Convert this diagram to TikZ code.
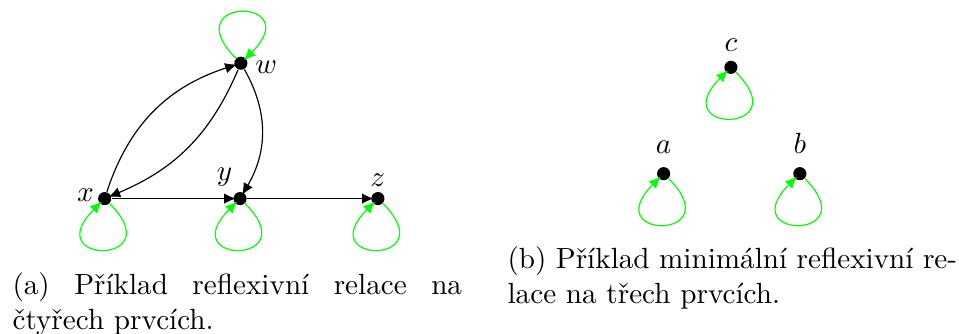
\documentclass[tikz,border=0pt]{standalone}
\usetikzlibrary{arrows.meta}

\begin{document}
\begin{tikzpicture}[
  vertex/.style={circle, fill=black, inner sep=0pt, minimum size=4.5pt},
  edge/.style={-{Latex[length=4pt,width=3.6pt]}, shorten >=-1pt},
  refl/.style={green, -{Latex[length=4pt,width=3.6pt]}, shorten >=-1pt},
  loopup/.style={loop, out=135, in=45, min distance=10.5mm},
  loopdown/.style={loop, out=-45, in=-135, min distance=10.5mm},
  caption/.style={text width=154pt, align=justify, inner sep=0pt, anchor=north west}
]
  \useasboundingbox (0,0) rectangle (11.546,4.021);
  % (a) reflexive relation on four elements
  \node[vertex, label={[label distance=-1pt, yshift=-1.5pt]right:$w$}] (w) at (2.9,3.26) {};
  \node[vertex, label={[label distance=-2.3pt, yshift=1pt]left:$x$}] (x) at (1.26,1.63) {};
  \node[vertex, label={[label distance=-1.5pt, xshift=1.3pt]120:$y$}] (y) at (2.89,1.63) {};
  \node[vertex, label={[label distance=-2pt]above:$z$}] (z) at (4.55,1.63) {};
  \draw[edge] (x) to[bend left=27] (w);
  \draw[edge] (w) to[bend left=22] (x);
  \draw[edge] (w) to[bend left=30] (y);
  \draw[edge] (x) -- (y);
  \draw[edge] (y) -- (z);
  % loops
  \draw[refl] (w) to[loopup] (w);
  \draw[refl] (x) to[loopdown] (x);
  \draw[refl] (y) to[loopdown] (y);
  \draw[refl] (z) to[loopdown] (z);
  % (b) minimal reflexive relation on three elements
  \node[vertex, label={[label distance=-0.5pt]above:$c$}] (c) at (8.8,3.21) {};
  \node[vertex, label={[label distance=1pt]above:$a$}] (a) at (7.99,1.93) {};
  \node[vertex, label={[label distance=1pt]above:$b$}] (b) at (9.63,1.93) {};
  \draw[refl] (c) to[loopdown] (c);
  \draw[refl] (a) to[loopdown] (a);
  \draw[refl] (b) to[loopdown] (b);
  % captions
  \node[caption] (capa) at (0.144,0.746)
    {(a) Příklad reflexivní relace na\linebreak čtyřech prvcích.};
  \node[caption] (capb) at (6.104,1.06)
    {(b) Příklad minimální reflexivní re-\linebreak lace na třech prvcích.};
\end{tikzpicture}
\end{document}
